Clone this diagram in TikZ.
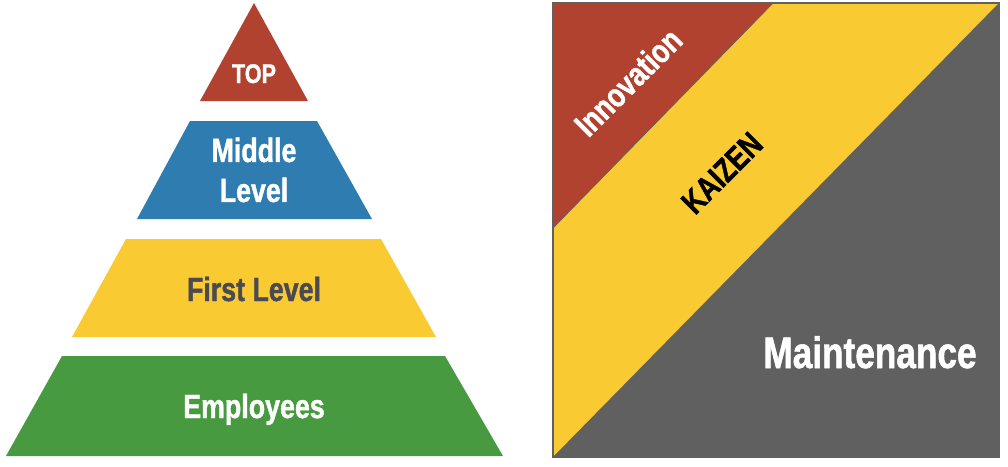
\documentclass[tikz,border=0pt]{standalone}
\usepackage{fontspec}
\newfontfamily\condfont[FakeStretch=0.8, BoldFeatures={FakeBold=1.2}]{Liberation Sans}
\definecolor{topred}{RGB}{178,66,48}
\definecolor{midblue}{RGB}{47,125,176}
\definecolor{firstyellow}{RGB}{250,202,50}
\definecolor{empgreen}{RGB}{72,154,64}
\definecolor{maintgray}{RGB}{96,96,96}
\definecolor{textgray}{RGB}{74,74,82}
\begin{document}
\begin{tikzpicture}[x=1pt, y=-1pt,
    lbl/.style={text=white, inner sep=0pt, align=center,
      font=\condfont\bfseries\fontsize{33.5}{40}\selectfont}]
    \useasboundingbox (0,0) rectangle (1008,466);
    \fill [topred] (254,3) -- (308,101) -- (200,101) -- cycle;
    \fill [midblue] (190,121) -- (317,121) -- (372,219) -- (137,219) -- cycle;
    \fill [firstyellow] (126,239) -- (381,239) -- (436,337) -- (72,337) -- cycle;
    \fill [empgreen] (62,356) -- (445,356) -- (503,456) -- (6,456) -- cycle;
    \node [lbl, anchor=base, font=\condfont\bfseries\fontsize{27}{30}\selectfont] (top) at (254,83) {TOP};
    \node [lbl] (middle) at (254,170) {Middle\\Level};
    \node [lbl, anchor=base, text=textgray] (first) at (254,301) {First Level};
    \node [lbl, anchor=base] (employees) at (254,418) {Employees};
    \fill [firstyellow] (553,3) rectangle (999,457);
    \fill [topred] (553,3) -- (773,3) -- (553,228) -- cycle;
    \fill [maintgray] (999,3) -- (999,457) -- (553,457) -- cycle;
    \draw [maintgray, line width=0.8] (773,3) -- (553,228);
    \draw [maintgray, line width=1.2] (553,3) rectangle (999,457);
    \node [lbl, rotate=45] (innovation) at (628,82) {Innovation};
    \node [lbl, rotate=45, text=black, font=\condfont\bfseries\fontsize{33}{36}\selectfont] (kaizen) at (722,173) {KAIZEN};
    \node [lbl, anchor=base, font=\condfont\bfseries\fontsize{44}{48}\selectfont] (maintenance) at (870,368) {Maintenance};
\end{tikzpicture}
\end{document}
